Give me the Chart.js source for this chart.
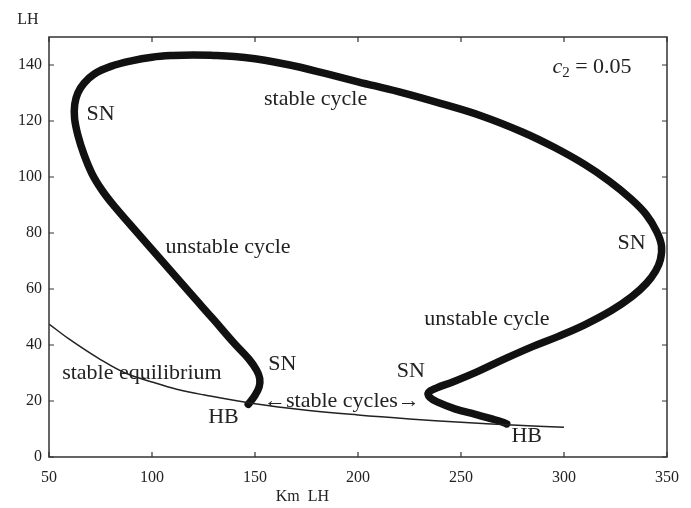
<!DOCTYPE html>
<html><head><meta charset="utf-8">
<script src="https://cdn.jsdelivr.net/npm/chart.js@4"></script>
<style>html,body{margin:0;padding:0;background:#fff}#wrap{width:691px;height:508px}</style>
</head><body><div id="wrap"><canvas id="c" width="691" height="508"></canvas></div>
<script>
// ---- data ----
const xTicks = [50, 100, 150, 200, 250, 300, 350];
const yTicks = [0, 20, 40, 60, 80, 100, 120, 140];

// equilibrium branch (thin line)
const eqKm = [50, 60, 75, 87, 100, 112, 125, 150, 175, 200, 225, 250, 275, 300];
const eqLH = [47.5, 42, 34.8, 30, 26.8, 24.2, 22.2, 19, 16.7, 15, 13.6, 12.4, 11.4, 10.6];

// periodic orbit branch (thick line), from left HB to right HB
const cycKm = [146.7, 149.8, 152, 152.3, 150.8, 147, 140, 130, 120, 110, 100, 90, 82, 76, 71, 67, 64, 62.4, 62.5, 64, 67, 72, 80, 90, 100, 110, 120, 130, 140, 150, 160, 172, 185, 200, 220, 240, 260, 280, 295, 310, 322, 332, 340, 345, 347.3, 346.8, 344.5, 340, 333, 323, 310, 297, 285, 272, 258, 246, 238, 234.2, 235, 239, 247, 257, 265, 270, 272.2];
const cycLH = [18.8, 21.8, 25, 28, 31, 35, 40.5, 49, 57.3, 65.7, 74.1, 82.5, 89.3, 95, 101, 108, 115, 121, 126, 130, 133.5, 136.8, 139.5, 141.5, 142.8, 143.4, 143.6, 143.4, 143, 142.2, 141, 139.2, 136.8, 134, 130.4, 126.3, 121.8, 116, 110.7, 104.5, 98.5, 92.5, 86.5, 80.5, 75.5, 70.5, 66.5, 62, 57.3, 52.3, 47.2, 43, 39.5, 35.3, 30.5, 26.8, 24.6, 23, 21.2, 19.5, 17.2, 15.2, 13.6, 12.5, 11.8];

// annotations
const noteText = ["SN", "stable cycle", "unstable cycle", "SN", "unstable cycle", "SN", "stable equilibrium", "HB", "\u2190stable cycles\u2192", "SN", "HB"];
const noteKm   = [75, 179.4, 136.9, 332.8, 262.6, 163.3, 95.1, 134.7, 192.2, 225.6, 281.9];
const noteLH   = [122.6, 127.7, 74.8, 76.4, 49.1, 33.1, 30.1, 14.1, 20, 30.7, 7.4];
const paramKm = 313.6, paramLH = 139.1;

const toPts = (xs, ys) => xs.map((x, i) => ({x, y: ys[i]}));
const SERIF = "'Liberation Serif', 'DejaVu Serif', serif";
const INK = '#222';

const decor = {
  id: 'decor',
  afterDatasetsDraw(chart) {
    const {ctx, chartArea: a, scales: {x, y}} = chart;
    ctx.save();
    // frame
    ctx.strokeStyle = '#333';
    ctx.lineWidth = 1.5;
    ctx.strokeRect(a.left, a.top, a.right - a.left, a.bottom - a.top);
    // inward ticks on all sides
    ctx.lineWidth = 1.2;
    ctx.beginPath();
    const L = 5;
    xTicks.forEach(v => {
      const px = x.getPixelForValue(v);
      ctx.moveTo(px, a.bottom); ctx.lineTo(px, a.bottom - L);
      ctx.moveTo(px, a.top); ctx.lineTo(px, a.top + L);
    });
    yTicks.forEach(v => {
      const py = y.getPixelForValue(v);
      ctx.moveTo(a.left, py); ctx.lineTo(a.left + L, py);
      ctx.moveTo(a.right, py); ctx.lineTo(a.right - L, py);
    });
    ctx.stroke();
    // annotations
    ctx.fillStyle = INK;
    ctx.font = "22px " + SERIF;
    ctx.textAlign = 'center';
    ctx.textBaseline = 'middle';
    noteText.forEach((t, i) => {
      ctx.fillText(t, x.getPixelForValue(noteKm[i]), y.getPixelForValue(noteLH[i]));
    });
    // c_2 = 0.05
    const cx = x.getPixelForValue(paramKm), cy = y.getPixelForValue(paramLH);
    const p1 = "c", p2 = "2", p3 = " = 0.05";
    ctx.font = "italic 22px " + SERIF; const w1 = ctx.measureText(p1).width;
    ctx.font = "15px " + SERIF; const w2 = ctx.measureText(p2).width;
    ctx.font = "22px " + SERIF; const w3 = ctx.measureText(p3).width;
    let sx = cx - (w1 + w2 + w3) / 2;
    ctx.textAlign = 'left';
    ctx.font = "italic 22px " + SERIF; ctx.fillText(p1, sx, cy); sx += w1;
    ctx.font = "15px " + SERIF; ctx.fillText(p2, sx, cy + 6); sx += w2;
    ctx.font = "22px " + SERIF; ctx.fillText(p3, sx, cy);
    // axis titles
    ctx.font = "16px " + SERIF;
    ctx.textAlign = 'center';
    ctx.fillText("LH", a.left - 21, a.top - 17);
    ctx.fillText("Km  LH", x.getPixelForValue(173), a.bottom + 40);
    ctx.restore();
  }
};

new Chart(document.getElementById('c'), {
  type: 'scatter',
  data: {
    datasets: [
      {data: toPts(eqKm, eqLH), showLine: true, borderColor: '#222', borderWidth: 1.5, pointRadius: 0, tension: 0.4},
      {data: toPts(cycKm, cycLH), showLine: true, borderColor: '#111', borderWidth: 7.5, pointRadius: 0, tension: 0.4, borderCapStyle: 'round', borderJoinStyle: 'round'}
    ]
  },
  options: {
    responsive: false,
    animation: false,
    layout: {padding: {top: 37, right: 24, left: 0, bottom: 0}},
    plugins: {legend: {display: false}, tooltip: {enabled: false}},
    scales: {
      x: {
        type: 'linear', min: 50, max: 350,
        afterBuildTicks: s => { s.ticks = xTicks.map(v => ({value: v})); },
        afterFit: s => { s.height = 51; },
        grid: {display: false, drawTicks: false},
        border: {display: false},
        ticks: {color: INK, padding: 11, font: {family: SERIF, size: 16}, maxRotation: 0}
      },
      y: {
        type: 'linear', min: 0, max: 150,
        afterBuildTicks: s => { s.ticks = yTicks.map(v => ({value: v})); },
        afterFit: s => { s.width = 49; },
        grid: {display: false, drawTicks: false},
        border: {display: false},
        ticks: {color: INK, padding: 7, font: {family: SERIF, size: 16}}
      }
    }
  },
  plugins: [decor]
});
</script>
</body></html>
